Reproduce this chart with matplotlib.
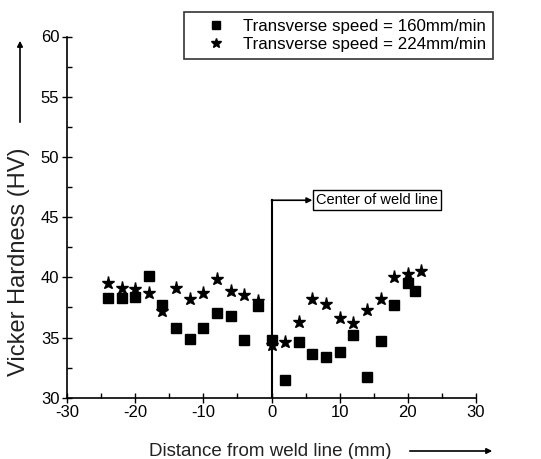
import matplotlib
matplotlib.use("Agg")
import matplotlib.pyplot as plt
from matplotlib.ticker import MultipleLocator

plt.rcParams['font.family'] = ['Liberation Sans', 'DejaVu Sans']
plt.rcParams['axes.unicode_minus'] = False

# distance from weld line (mm) and hardness (HV)
x_160 = [-24, -22, -20, -18, -16, -14, -12, -10, -8, -6, -4, -2, 0, 2, 4, 6, 8, 10, 12, 14, 16, 18, 20, 21]
hv_160 = [38.3, 38.3, 38.4, 40.1, 37.7, 35.8, 34.9, 35.8, 37.0, 36.8, 34.8, 37.6, 34.8,
          31.5, 34.6, 33.6, 33.4, 33.8, 35.2, 31.7, 34.7, 37.7, 39.5, 38.9]
x_224 = [-24, -22, -20, -18, -16, -14, -12, -10, -8, -6, -4, -2, 0, 2, 4, 6, 8, 10, 12, 14, 16, 18, 20, 22]
hv_224 = [39.5, 39.1, 39.0, 38.7, 37.2, 39.1, 38.2, 38.7, 39.9, 38.9, 38.5, 38.0, 34.4,
          34.6, 36.3, 38.2, 37.8, 36.6, 36.2, 37.3, 38.2, 40.0, 40.3, 40.5]

labels = ["Transverse speed = 160mm/min", "Transverse speed = 224mm/min"]

W, H = 541, 459
fig = plt.figure(figsize=(W / 100, H / 100), dpi=100)
ax = fig.add_axes([67 / W, 1 - 397.7 / H, 409 / W, 361.2 / H])

ax.plot(x_160, hv_160, 's', color='black', markersize=6.5, label=labels[0])
ax.plot(x_224, hv_224, '*', color='black', markersize=9.5, label=labels[1])

ax.set_xlim(-30, 30)
ax.set_ylim(30, 60)
ax.xaxis.set_major_locator(MultipleLocator(10))
ax.xaxis.set_minor_locator(MultipleLocator(5))
ax.yaxis.set_major_locator(MultipleLocator(5))
ax.yaxis.set_minor_locator(MultipleLocator(2.5))
ax.tick_params(which='major', direction='inout', length=7, width=1, labelsize=12, pad=2)
ax.tick_params(which='minor', direction='in', length=3.5, width=1)
ax.spines['top'].set_visible(False)
ax.spines['right'].set_visible(False)
for s in ('left', 'bottom'):
    ax.spines[s].set_linewidth(1.2)

# center of weld line marker
ax.plot([0, 0], [30, 46.4], color='black', linewidth=1.5)
ax.annotate("Center of weld line", xy=(0, 46.4), xytext=(6.5, 46.4), va='center',
            fontsize=10.5,
            bbox=dict(boxstyle='square,pad=0.2', fc='white', ec='black', lw=1),
            arrowprops=dict(arrowstyle='<|-', color='black', lw=1.2, shrinkA=0, shrinkB=0,
                            mutation_scale=8))

# axis labels with arrows
def fx(p):
    return p / W

def fy(p):
    return 1 - p / H

fig.text(fx(19), fy(262), "Vicker Hardness (HV)", rotation=90, fontsize=17,
         ha='center', va='center', color='#222222')
fig.text(fx(149), fy(451), "Distance from weld line (mm)", fontsize=13.5,
         ha='left', va='center', color='#222222')
fig.add_artist(matplotlib.patches.FancyArrowPatch(
    (fx(20), fy(125)), (fx(20), fy(38)), transform=fig.transFigure,
    arrowstyle='-|>', mutation_scale=8, color='black', lw=1.2))
fig.add_artist(matplotlib.patches.FancyArrowPatch(
    (fx(407), fy(451)), (fx(495), fy(451)), transform=fig.transFigure,
    arrowstyle='-|>', mutation_scale=8, color='black', lw=1.2))

leg = fig.legend(loc='upper left', bbox_to_anchor=(fx(184), fy(12)), fontsize=12.2,
                 frameon=True, fancybox=False, edgecolor='black', borderpad=0.4,
                 handlelength=3.0, handletextpad=0.1, labelspacing=0.2,
                 markerscale=0.8, borderaxespad=0)
leg.get_frame().set_linewidth(1.2)

fig.savefig("out.png", dpi=100)
